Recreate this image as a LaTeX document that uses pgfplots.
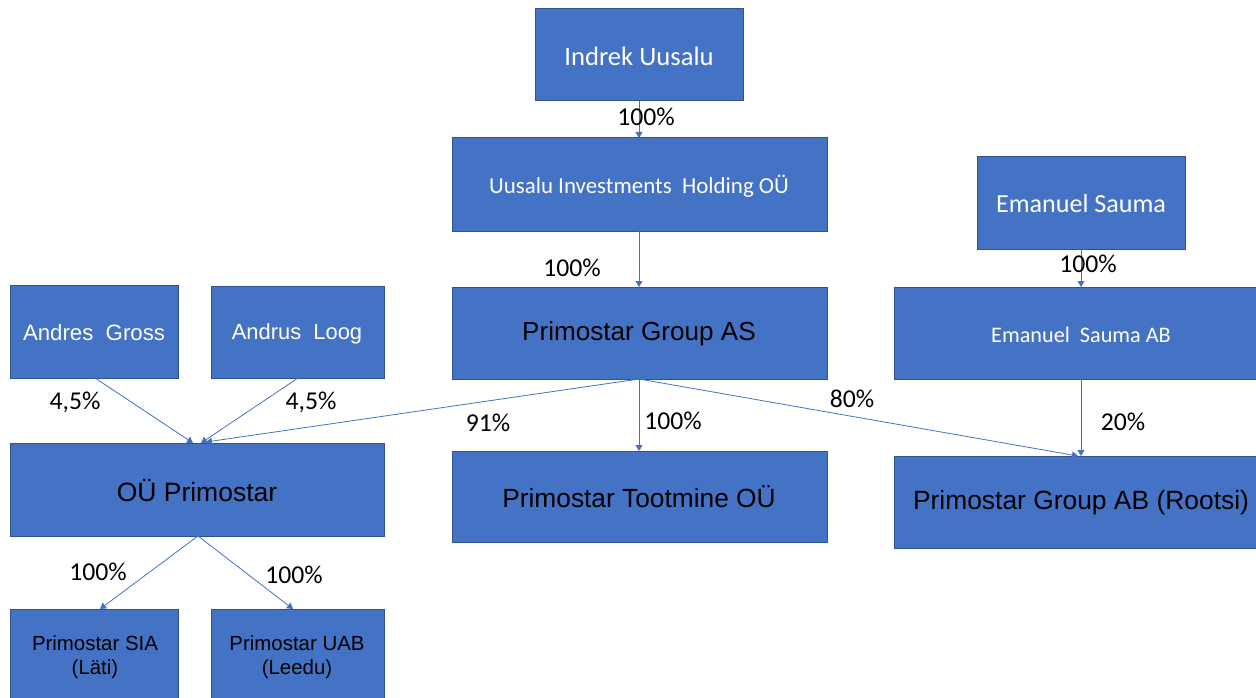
\documentclass[border=0pt]{standalone}
\usepackage{pgfplots}
\pgfplotsset{compat=1.18}
\usepackage{fontspec}
\setmainfont{Carlito}
\newfontfamily\arial{Liberation Sans}
\usetikzlibrary{arrows.meta}
\definecolor{boxblue}{HTML}{4472C4}
\definecolor{boxedge}{HTML}{2F528F}
\definecolor{lineblue}{HTML}{4472C4}
\newcommand{\fs}[1]{\fontsize{#1}{#1}\selectfont}
\tikzset{
  box/.style={fill=boxblue, draw=boxedge, line width=1bp},
  arr/.style={lineblue, line width=0.8bp, -{Triangle[width=7bp,length=6bp]}},
  pct/.style={font=\fs{25.8}, text=black},
}
\begin{document}
\begin{tikzpicture}
\begin{axis}[
  scale only axis, width=1256bp, height=698bp,
  xmin=0, xmax=1256, ymin=0, ymax=698, y dir=reverse,
  hide axis, clip=false,
]
% boxes
\addplot[box] coordinates {(535,9)(743,9)(743,101)(535,101)} -- cycle;
\addplot[box] coordinates {(452,138)(827,138)(827,231)(452,231)} -- cycle;
\addplot[box] coordinates {(977,157)(1185,157)(1185,249)(977,249)} -- cycle;
\addplot[box] coordinates {(10,285)(178,285)(178,378)(10,378)} -- cycle;
\addplot[box] coordinates {(211,286)(384,286)(384,378)(211,378)} -- cycle;
\addplot[box] coordinates {(452,287)(827,287)(827,379)(452,379)} -- cycle;
\addplot[box] coordinates {(894,287)(1256,287)(1256,379)(894,379)} -- cycle;
\addplot[box] coordinates {(10,443)(384,443)(384,536)(10,536)} -- cycle;
\addplot[box] coordinates {(452,451)(827,451)(827,542)(452,542)} -- cycle;
\addplot[box] coordinates {(894,456)(1256,456)(1256,548)(894,548)} -- cycle;
\addplot[box] coordinates {(10,609)(178,609)(178,702)(10,702)} -- cycle;
\addplot[box] coordinates {(211,609)(384,609)(384,702)(211,702)} -- cycle;
% arrows
\addplot[arr] coordinates {(639,101)(639,138)};
\addplot[arr] coordinates {(639,231)(639,287)};
\addplot[arr] coordinates {(1081,249)(1081,287)};
\addplot[arr] coordinates {(639,379)(206,442)};
\addplot[arr] coordinates {(95,378)(193,443)};
\addplot[arr] coordinates {(298,378)(201,443)};
\addplot[arr] coordinates {(639,379)(639,451)};
\addplot[arr] coordinates {(639,379)(1078,456)};
\addplot[arr] coordinates {(1081,379)(1081,456)};
\addplot[arr] coordinates {(198,536)(100,609)};
\addplot[arr] coordinates {(198,536)(293,609)};
% box texts
\node[text=white, font=\fs{26.7}] at (axis cs:639,56) {Indrek Uusalu};
\node[text=white, font=\fs{23}] at (axis cs:639,186) {Uusalu Investments\ \ Holding OÜ};
\node[text=white, font=\fs{26.2}] at (axis cs:1081,204) {Emanuel Sauma};
\node[text=white, font=\arial\fs{22.3}] at (axis cs:94,333) {Andres\ \ Gross};
\node[text=white, font=\arial\fs{22}] at (axis cs:297,334) {Andrus\ \ Loog};
\node[text=black, font=\arial\fs{26.2}] at (axis cs:639,334) {Primostar Group AS};
\node[text=white, font=\fs{22.3}] at (axis cs:1081,335) {Emanuel\ \ Sauma\ AB};
\node[text=black, font=\arial\fs{26.6}] at (axis cs:197,491) {OÜ Primostar};
\node[text=black, font=\arial\fs{26.4}] at (axis cs:639,497) {Primostar Tootmine OÜ};
\node[text=black, font=\arial\fs{26.5}] at (axis cs:1081,503) {Primostar Group AB\ (Rootsi)};
\node[text=black, font=\arial\fs{20.5}] at (axis cs:95,643) {Primostar SIA};
\node[text=black, font=\arial\fs{20.5}] at (axis cs:95,669) {(Läti)};
\node[text=black, font=\arial\fs{20.5}] at (axis cs:297,643) {Primostar UAB};
\node[text=black, font=\arial\fs{20.5}] at (axis cs:297,669) {(Leedu)};
% percentages
\node[pct] at (axis cs:646,117) {100\%};
\node[pct] at (axis cs:572,268) {100\%};
\node[pct] at (axis cs:1088,264) {100\%};
\node[pct] at (axis cs:852,399) {80\%};
\node[pct] at (axis cs:1123,422) {20\%};
\node[pct] at (axis cs:75,402) {4,5\%};
\node[pct] at (axis cs:311,402) {4,5\%};
\node[pct] at (axis cs:488,423) {91\%};
\node[pct] at (axis cs:673,421) {100\%};
\node[pct] at (axis cs:98,572) {100\%};
\node[pct] at (axis cs:294,575) {100\%};
\end{axis}
\pgfresetboundingbox
\useasboundingbox (current axis.south west) rectangle (current axis.north east);
\end{tikzpicture}
\end{document}
